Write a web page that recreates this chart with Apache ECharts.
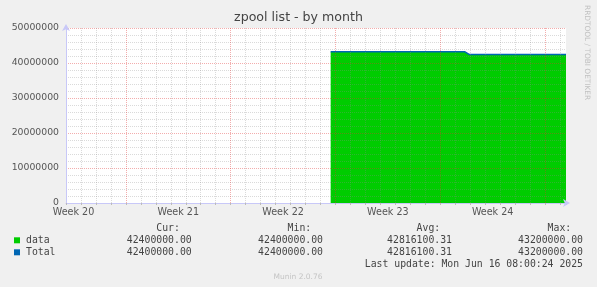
<!DOCTYPE html>
<html>
<head>
<meta charset="utf-8">
<script src="https://cdn.jsdelivr.net/npm/echarts@6/dist/echarts.min.js"></script>
<style>
  html, body { margin: 0; padding: 0; background: #f0f0f0; }
  #chart { width: 597px; height: 287px; }
</style>
</head>
<body>
<div id="chart"></div>
<script>
// ---- data (x in days from the left edge of the graph) ----
const spanDays = 33.4;
const weekLabels = ['Week 20', 'Week 21', 'Week 22', 'Week 23', 'Week 24'];
const weekLabelDays = [0.5, 7.5, 14.5, 21.5, 28.5];
const firstWeekStartDay = 4;   // week boundaries every 7 days from here
const sampleDays = [17.68, 26.65, 26.95, 33.4];
const dataValues = [43200000, 43200000, 42400000, 42400000];
const totalValues = [43200000, 43200000, 42400000, 42400000];
const yMax = 50000000;
const yMajorStep = 10000000;
const yMinorStep = 2000000;
const seriesNames = ['data', 'Total'];
const statHeaders = ['Cur:', 'Min:', 'Avg:', 'Max:'];
const dataStats = ['42400000.00', '42400000.00', '42816100.31', '43200000.00'];
const totalStats = ['42400000.00', '42400000.00', '42816100.31', '43200000.00'];
const titleText = 'zpool list - by month';
const yAxisTitle = 'zpool list';
const lastUpdate = 'Last update: Mon Jun 16 08:00:24 2025';
const footerText = 'Munin 2.0.76';
const sideText = 'RRDTOOL / TOBI OETIKER';

// ---- styling ----
const GREEN = '#00cc00';
const BLUE = '#0066b3';
const AXIS = '#c8c8f8';
const MINOR = 'rgba(140,140,140,0.32)';
const MAJOR = 'rgba(225,50,50,0.4)';
const MONO = 'DejaVu Sans Mono';
const SANS = 'DejaVu Sans';

// colour cycles for split lines (one colour per tick starting at the min tick, repeating)
const xGridColors = [];
for (let i = 0; i < 7; i++) xGridColors.push(i === firstWeekStartDay % 7 ? MAJOR : MINOR);
const yGridColors = [];
for (let i = 0; i < yMajorStep / yMinorStep; i++) yGridColors.push(i === 0 ? MAJOR : MINOR);

const chart = echarts.init(document.getElementById('chart'), null, { renderer: 'canvas' });

const dataPts = sampleDays.map((d, i) => [d, dataValues[i]]);
const totalPts = sampleDays.map((d, i) => [d, totalValues[i]]);

const valueEnds = [191.7, 323, 452, 583];
const monoSize = 9.8;
const rows = [228.3, 240.3, 252.3, 264];

const graphics = [];
statHeaders.forEach((h, i) => {
  graphics.push({ type: 'text', silent: true, style: { text: h, x: valueEnds[i] - 11.8, y: rows[0], align: 'right', verticalAlign: 'middle', fontFamily: MONO, fontSize: monoSize, fill: '#444' } });
});
[[seriesNames[0], dataStats, GREEN], [seriesNames[1], totalStats, BLUE]].forEach((r, k) => {
  const y = rows[k + 1];
  graphics.push({ type: 'rect', silent: true, shape: { x: 14, y: y - 3, width: 6, height: 6 }, style: { fill: r[2] } });
  graphics.push({ type: 'text', silent: true, style: { text: r[0], x: 26, y: y, align: 'left', verticalAlign: 'middle', fontFamily: MONO, fontSize: monoSize, fill: '#444' } });
  r[1].forEach((v, i) => {
    graphics.push({ type: 'text', silent: true, style: { text: v, x: valueEnds[i], y: y, align: 'right', verticalAlign: 'middle', fontFamily: MONO, fontSize: monoSize, fill: '#444' } });
  });
});
graphics.push({ type: 'text', silent: true, style: { text: lastUpdate, x: 583, y: rows[3], align: 'right', verticalAlign: 'middle', fontFamily: MONO, fontSize: monoSize, fill: '#444' } });
graphics.push({ type: 'text', silent: true, style: { text: footerText, x: 298, y: 277, align: 'center', verticalAlign: 'middle', fontFamily: SANS, fontSize: 7.5, fill: '#c4c4c4' } });
graphics.push({ type: 'text', silent: true, x: 587, y: 5, rotation: -Math.PI / 2, style: { text: sideText, x: 0, y: 0, align: 'left', verticalAlign: 'middle', fontFamily: SANS, fontSize: 7.4, fill: '#c0c0c0' } });

const option = {
  backgroundColor: '#f0f0f0',
  animation: false,
  title: {
    text: titleText,
    left: 'center',
    top: 11,
    padding: 0,
    textStyle: { fontFamily: SANS, fontSize: 12.6, fontWeight: 'normal', color: '#444' }
  },
  grid: {
    left: 66, right: 31, top: 28, bottom: 84,
    containLabel: false, outerBoundsMode: 'none',
    show: true, backgroundColor: '#ffffff', borderWidth: 0
  },
  xAxis: [
    {
      type: 'value', min: 0, max: spanDays, interval: 1, z: 5,
      axisLine: { show: true, lineStyle: { color: AXIS, width: 1 }, symbol: ['none', 'arrow'], symbolSize: [6, 7], symbolOffset: [0, 4] },
      axisTick: { show: true, length: 2, lineStyle: { color: '#bbbbbb' } },
      axisLabel: { show: false },
      splitLine: { show: true, showMinLine: true, showMaxLine: false, lineStyle: { color: xGridColors, width: 1, type: [1, 1] } }
    },
    {
      type: 'value', min: 0, max: spanDays, interval: 0.5, z: 5,
      position: 'bottom',
      axisLine: { show: false },
      axisTick: { show: false },
      splitLine: { show: false },
      axisLabel: {
        show: true, margin: 4, color: '#555', fontFamily: SANS, fontSize: 9.6,
        showMinLabel: true, showMaxLabel: true,
        formatter: function (v) {
          for (let i = 0; i < weekLabelDays.length; i++) {
            if (Math.abs(v - weekLabelDays[i]) < 1e-6) return weekLabels[i];
          }
          return '';
        }
      }
    }
  ],
  yAxis: [
    {
      type: 'value', min: 0, max: yMax, interval: yMinorStep, z: 5,
      name: yAxisTitle, nameLocation: 'middle', nameGap: 50, nameRotate: 90,
      nameTextStyle: { fontFamily: SANS, fontSize: 9.5, color: '#555' },
      axisLine: { show: true, lineStyle: { color: AXIS, width: 1 }, symbol: ['none', 'arrow'], symbolSize: [6, 7], symbolOffset: [0, 4] },
      axisTick: { show: false },
      axisLabel: {
        margin: 7, color: '#555', fontFamily: SANS, fontSize: 9.3,
        formatter: function (v) { return (Math.round(v) % yMajorStep === 0) ? String(Math.round(v)) : ''; }
      },
      splitLine: { show: true, lineStyle: { color: yGridColors, width: 1, type: [1, 1] } }
    }
  ],
  series: [
    {
      name: seriesNames[0], type: 'line', xAxisIndex: 0, yAxisIndex: 0,
      data: dataPts, symbol: 'none', z: 2,
      lineStyle: { width: 0, color: GREEN },
      areaStyle: { color: GREEN, opacity: 1 }
    },
    {
      name: seriesNames[1], type: 'line', xAxisIndex: 0, yAxisIndex: 0,
      data: totalPts, symbol: 'none', z: 3,
      lineStyle: { width: 1.5, color: BLUE }
    }
  ],
  graphic: graphics
};
chart.setOption(option);
</script>
</body>
</html>
